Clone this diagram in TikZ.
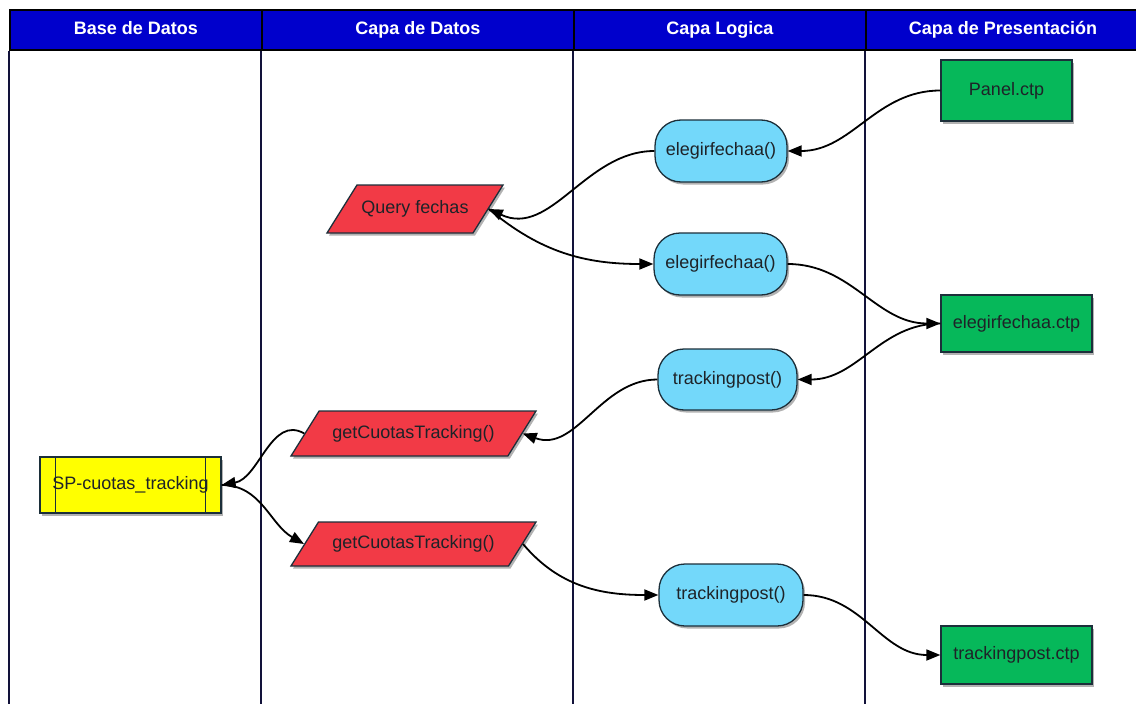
\documentclass[tikz,border=0pt]{standalone}
\usepackage{fontspec}
\setmainfont{Liberation Sans}
\usetikzlibrary{shapes.geometric,shadows,arrows.meta,calc}
\definecolor{hdr}{HTML}{0000CC}
\definecolor{lanecol}{HTML}{12123A}
\definecolor{redf}{HTML}{F23A46}
\definecolor{cyanf}{HTML}{73D8FA}
\definecolor{greenf}{HTML}{06B85A}
\definecolor{yellowf}{HTML}{FFFF00}
\definecolor{edgecol}{HTML}{1C2F3A}
\definecolor{txt}{HTML}{1E2328}
\begin{document}
\begin{tikzpicture}[x=1pt,y=-1pt,
  every node/.style={font=\fontsize{18}{21}\selectfont, text=txt},
  hcell/.style={draw=black, line width=1.5pt, fill=hdr, minimum height=40pt,
    text=white, font=\fontsize{18}{21}\selectfont\bfseries, inner sep=0pt,
    text height=13pt, text depth=4pt},
  lane/.style={draw=lanecol, line width=2pt},
  shad/.style={drop shadow={shadow xshift=2pt, shadow yshift=-2.5pt, fill=black, opacity=0.3}},
  gbox/.style={rectangle, draw=edgecol, line width=1.3pt, fill=greenf, shad, inner sep=0pt},
  cbox/.style={rectangle, rounded corners=26pt, draw=edgecol, line width=1.3pt, fill=cyanf, shad, inner sep=0pt},
  pbox/.style={trapezium, trapezium left angle=58, trapezium right angle=122,
    trapezium stretches body=true, draw=edgecol, line width=1.3pt, fill=redf, shad,
    inner xsep=0pt, text height=13pt, text depth=4pt},
  ybox/.style={rectangle, draw=edgecol, line width=1.3pt, fill=yellowf, shad, inner sep=0pt},
  conn/.style={draw=black, line width=1.8pt, -{Triangle[length=14pt,width=11pt]}}
]
\useasboundingbox[fill=white] (0,0) rectangle (1136,704);
\coordinate (bot) at (0,704);

% header
\node[hcell, minimum width=252pt] (h1) at (136,30) {Base de Datos};
\node[hcell, minimum width=312pt] (h2) at (418,30) {Capa de Datos};
\node[hcell, minimum width=292pt] (h3) at (720,30) {Capa Logica};
\node[hcell, minimum width=274pt] (h4) at (1003,30) {Capa de Presentación};

% lanes
\draw[lane] (h1.south west) -- (h1.south west |- bot);
\draw[lane] (h2.south west) -- (h2.south west |- bot);
\draw[lane] (h3.south west) -- (h3.south west |- bot);
\draw[lane] (h4.south west) -- (h4.south west |- bot);

% nodes
\node[gbox, minimum width=131pt, minimum height=61pt] (pan) at (1006.5,90.5) {Panel.ctp};
\node[cbox, minimum width=132pt, minimum height=62pt] (ef1) at (721,151) {elegirfechaa()};
\node[pbox, minimum width=176pt, inner ysep=15.5pt] (q) at (415,209) {Query fechas};
\node[cbox, minimum width=133pt, minimum height=62pt] (ef2) at (720.5,264) {elegirfechaa()};
\node[gbox, minimum width=151pt, minimum height=57pt] (ectp) at (1016.5,323.5) {elegirfechaa.ctp};
\node[cbox, minimum width=139pt, minimum height=61pt] (tp1) at (727.5,379.5) {trackingpost()};
\node[pbox, minimum width=245pt, inner ysep=14pt] (gc1) at (413.5,433.5) {getCuotasTracking()};
\node[ybox, minimum width=181pt, minimum height=56pt] (sp) at (130.5,485) {};
\draw[draw=edgecol, line width=1.3pt] ($(sp.north west)+(16,0)$) -- ($(sp.south west)+(16,0)$);
\draw[draw=edgecol, line width=1.3pt] ($(sp.north east)+(-16,0)$) -- ($(sp.south east)+(-16,0)$);
\node (sptext) at (sp.center) {SP-cuotas\_tracking};
\node[pbox, minimum width=245pt, inner ysep=13.5pt] (gc2) at (413.5,544) {getCuotasTracking()};
\node[cbox, minimum width=144pt, minimum height=62pt] (tp2) at (731,595) {trackingpost()};
\node[gbox, minimum width=151pt, minimum height=58pt] (tctp) at (1016.5,655) {trackingpost.ctp};

% connectors
\draw[conn] (pan.west) to[out=180,in=0] (ef1.east);
\draw[conn] (ef1.west) to[out=180,in=-25] (q.east);
\draw[conn] (q.east) to[out=-40,in=180] (ef2.west);
\draw[conn] (ef2.east) to[out=0,in=180] (ectp.west);
\draw[conn] (ectp.west) to[out=180,in=0] (tp1.east);
\draw[conn] (tp1.west) to[out=180,in=-20] (gc1.east);
\draw[conn] (gc1.west) to[out=150,in=10] (sp.east);
\draw[conn] (sp.east) to[out=0,in=150] (gc2.west);
\draw[conn] (gc2.east) to[out=-50,in=180] (tp2.west);
\draw[conn] (tp2.east) to[out=0,in=180] (tctp.west);
\end{tikzpicture}
\end{document}
